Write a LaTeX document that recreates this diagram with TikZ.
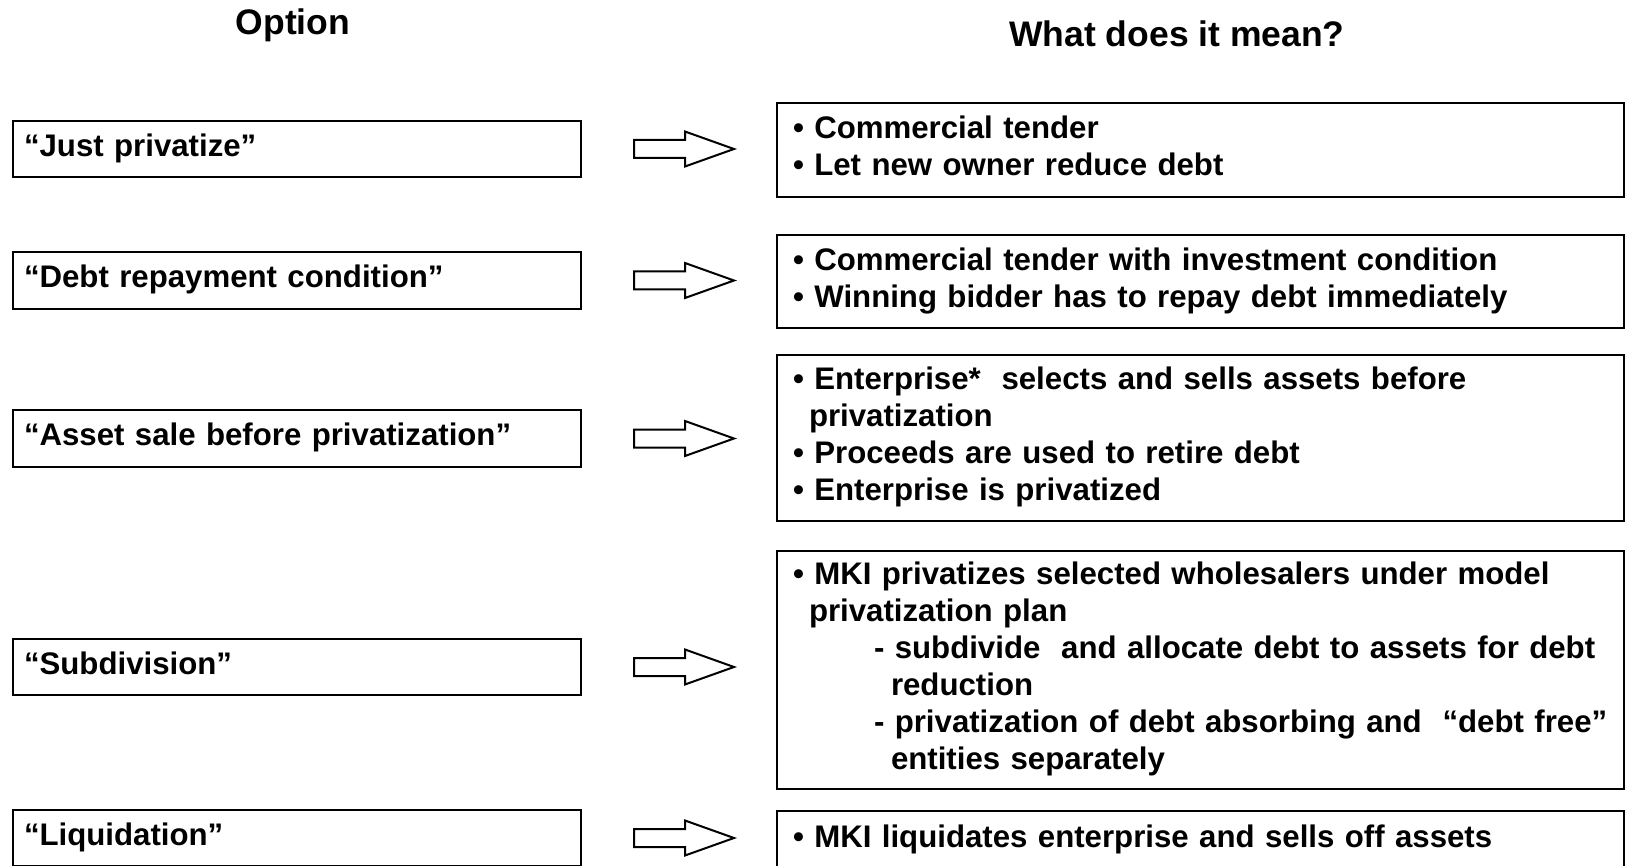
\documentclass[tikz,border=0pt]{standalone}
\usepackage{fontspec}
\setmainfont{Liberation Sans}
\begin{document}
\begin{tikzpicture}[x=1pt,y=-1pt,
  every node/.style={font=\fontsize{31.2}{37}\selectfont\bfseries},
  boxline/.style={draw=black,line width=2pt,fill=white},
  title/.style={font=\fontsize{35.5}{42}\selectfont\bfseries,anchor=base,inner sep=0pt},
  lbox/.style={boxline,anchor=north west,minimum width=568pt,
    text width=546pt,inner xsep=11pt,inner ysep=0pt,align=left},
  rbox/.style={boxline,anchor=north west,minimum width=847pt,
    text width=815pt,inner xsep=16pt,inner ysep=0pt,align=left},
  arrowline/.style={draw=black,line width=2pt,fill=white,line join=miter},
  blockarr/.pic={\path[arrowline] (0,-9) -- (51,-9) -- (51,-17.5) -- (100,0)
      -- (51,17.5) -- (51,9) -- (0,9) -- cycle;}
]
\useasboundingbox (0,0) rectangle (1625,866);
\clip (0,0) rectangle (1625,866);

% column headings
\node[title] (h1) at (293,35) {Option};
\node[title] (h2) at (1177,47) {What does it mean?};

% options
\node[lbox,minimum height=56pt] (l1) at (12,120) {\strut“Just privatize”};
\node[lbox,minimum height=57pt] (l2) at (12,251) {\strut“Debt repayment condition”};
\node[lbox,minimum height=57pt] (l3) at (12,409) {\strut“Asset sale before privatization”};
\node[lbox,minimum height=56pt] (l4) at (12,638) {\strut“Subdivision”};
\node[lbox,minimum height=56pt] (l5) at (12,809) {\strut“Liquidation”};

% meanings (one \mbox per printed line, so nothing rewraps)
\node[rbox,minimum height=94pt] (r1) at (776,102)
  {\mbox{\strut• Commercial tender}\\
   \mbox{• Let new owner reduce debt\strut}};
\node[rbox,minimum height=93pt] (r2) at (776,234)
  {\mbox{\strut• Commercial tender with investment condition}\\
   \mbox{• Winning bidder has to repay debt immediately\strut}};
\node[rbox,minimum height=166pt] (r3) at (776,354)
  {\mbox{\strut• Enterprise*\ \ selects and sells assets before}\\
   \mbox{\hspace*{16pt}privatization}\\
   \mbox{• Proceeds are used to retire debt}\\
   \mbox{• Enterprise is privatized\strut}};
\node[rbox,minimum height=238pt] (r4) at (776,550)
  {\mbox{\strut• MKI privatizes selected wholesalers under model}\\
   \mbox{\hspace*{16pt}privatization plan}\\
   \mbox{\hspace*{81pt}- subdivide\ \ and allocate debt to assets for debt}\\
   \mbox{\hspace*{98pt}reduction}\\
   \mbox{\hspace*{81pt}- privatization of debt absorbing and\ \ “debt free”}\\
   \mbox{\hspace*{98pt}entities separately\strut}};
\node[rbox,minimum height=59pt] (r5) at (776,810)
  {\mbox{\strut• MKI liquidates enterprise and sells off assets}};

% block arrows from each option to its meaning
\foreach \n in {1,...,5}
  \pic at ([xshift=52pt]l\n.east) {blockarr};
\end{tikzpicture}
\end{document}
